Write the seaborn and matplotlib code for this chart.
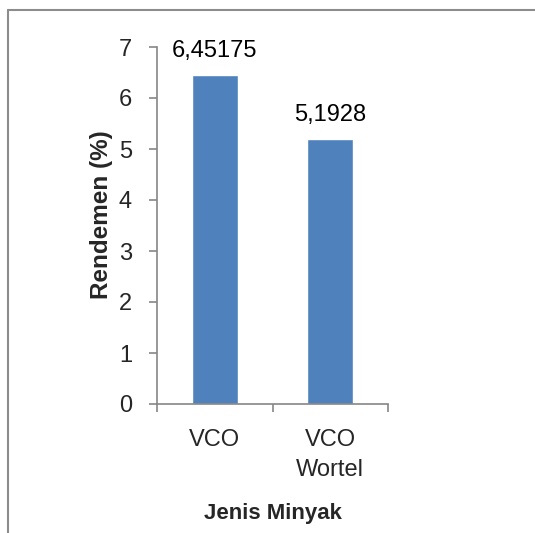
import matplotlib
matplotlib.use("Agg")
import matplotlib.pyplot as plt
import seaborn as sns
import pandas as pd
from matplotlib.lines import Line2D

categories = ["VCO", "VCO\nWortel"]
values = [6.45175, 5.1928]
value_labels = ["6,45175", "5,1928"]
y_ticks = [0, 1, 2, 3, 4, 5, 6, 7]
x_title = "Jenis Minyak"
y_title = "Rendemen (%)"

sns.set_theme(style="white")
plt.rcParams['font.family'] = ['Liberation Sans', 'DejaVu Sans']

df = pd.DataFrame({"cat": categories, "val": values})

fig = plt.figure(figsize=(5.35, 5.33), dpi=100)
ax = fig.add_axes([157/535, (533-404)/533, (388-157)/535, (404-47)/533])

sns.barplot(data=df, x="cat", y="val", color="#4F81BD", width=0.4,
            saturation=1, ax=ax)

fs = 17
ax.set_ylim(0, 7)
ax.set_xlim(-0.5, 1.5)
ax.set_yticks(y_ticks)
ax.set_yticklabels([str(t) for t in y_ticks], fontsize=fs)

axis_col = "#868686"
for s in ["top", "right"]:
    ax.spines[s].set_visible(False)
for s in ["left", "bottom"]:
    ax.spines[s].set_color(axis_col)
    ax.spines[s].set_linewidth(1.2)

ax.tick_params(axis="y", which="major", direction="out", length=6, width=1.2,
               color=axis_col, pad=12, left=True, labelsize=fs)
ax.set_xticks([-0.5, 0.5, 1.5])
ax.set_xticklabels(["", "", ""])
ax.set_xticks([0, 1], minor=True)
ax.set_xticklabels(categories, minor=True, fontsize=fs, linespacing=1.45)
ax.tick_params(axis="x", which="major", direction="out", length=6, width=1.2,
               color=axis_col, bottom=True)
ax.tick_params(axis="x", which="minor", length=0, pad=18, labelsize=fs)

for i, (v, lab) in enumerate(zip(values, value_labels)):
    ax.annotate(lab, xy=(i, v), xytext=(0, 13), textcoords="offset points",
                ha="center", va="baseline", fontsize=fs, color="black")

ax.set_xlabel(x_title, fontsize=16, fontweight="bold", labelpad=16)
ax.set_ylabel(y_title, fontsize=17.5, fontweight="bold", labelpad=4)
ax.yaxis.label.set_y(0.53)

# outer chart frame (top and left edges visible)
fig.add_artist(Line2D([8/535, 8/535], [0, 1 - 10/533], color="#8c8c8c", lw=1.5,
                      transform=fig.transFigure))
fig.add_artist(Line2D([8/535, 1], [1 - 10/533, 1 - 10/533], color="#8c8c8c", lw=1.5,
                      transform=fig.transFigure))

fig.savefig("out.png", dpi=100, facecolor="white")
